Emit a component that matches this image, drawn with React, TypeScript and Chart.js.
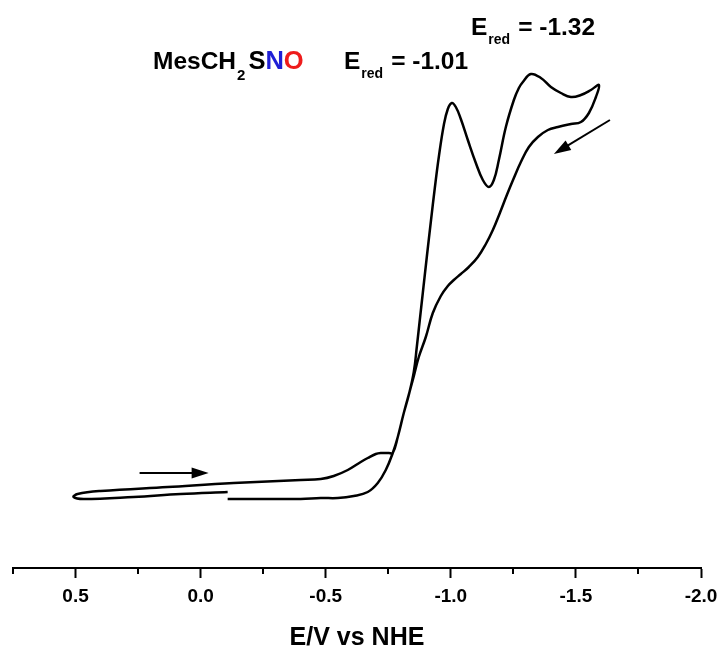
import React, { useEffect, useRef } from "react";
import { Chart, registerables } from "chart.js";

Chart.register(...registerables);

// Forward (cathodic) scan: potential (V vs NHE) and current (arbitrary units)
const forwardPotential = [
  -0.108, -0.24, -0.4, -0.48, -0.548, -0.612, -0.668, -0.708, -0.74, -0.768,
  -0.788, -0.812, -0.832, -0.852, -0.864, -0.876, -0.888, -0.904, -0.92, -0.936,
  -0.952, -0.972, -0.988, -1.004, -1.02, -1.04, -1.068, -1.1, -1.128, -1.152,
  -1.172, -1.192, -1.22, -1.252, -1.272, -1.288, -1.32, -1.36, -1.4, -1.44,
  -1.48, -1.52, -1.56, -1.592,
];
const forwardCurrent = [
  6.9, 6.9, 6.9, 7.0, 7.0, 7.2, 7.6, 8.5, 9.8, 11.5,
  13.1, 15.5, 17.3, 19.6, 22.1, 24.8, 27.5, 31.1, 34.6, 38.0,
  41.1, 44.3, 45.9, 46.5, 46.1, 44.9, 42.8, 40.5, 38.8, 38.1,
  38.8, 40.8, 44.1, 46.8, 48.0, 48.6, 49.4, 49.0, 48.1, 47.5,
  47.1, 47.3, 47.8, 48.3,
];

// Reverse (anodic) scan back to +0.5 V and then to the start potential
const reversePotential = [
  -1.58, -1.552, -1.52, -1.48, -1.428, -1.388, -1.348, -1.312, -1.28, -1.252,
  -1.224, -1.196, -1.168, -1.14, -1.108, -1.072, -1.04, -1.012, -0.988, -0.96,
  -0.928, -0.9, -0.872, -0.848, -0.812, -0.788, -0.768, -0.752, -0.72, -0.7,
  -0.668, -0.64, -0.588, -0.532, -0.48, -0.4, -0.132, 0.132, 0.4, 0.492,
  0.508, 0.468, 0.268, 0.08, -0.108,
];
const reverseCurrent = [
  47.1, 45.5, 44.6, 44.4, 44.1, 43.8, 43.1, 42.1, 40.6, 39.0,
  37.3, 35.5, 33.8, 32.4, 31.1, 30.1, 29.4, 28.8, 28.2, 27.2,
  25.5, 23.1, 21.1, 18.8, 15.5, 13.1, 11.5, 11.5, 11.5, 11.4,
  11.0, 10.6, 9.8, 9.2, 8.9, 8.8, 8.5, 8.1, 7.7, 7.4,
  7.1, 6.9, 7.1, 7.4, 7.6,
];

// X-axis ticks (major labelled every 0.5 V, minor every 0.25 V)
const tickValues = [0.75, 0.5, 0.25, 0.0, -0.25, -0.5, -0.75, -1.0, -1.25, -1.5, -1.75, -2.0];
const majorTickValues = [0.5, 0.0, -0.5, -1.0, -1.5, -2.0];

// Scan direction arrows: [startPotential, startCurrent, endPotential, endCurrent]
const arrowForward = [0.244, 9.5, -0.032, 9.5];
const arrowReverse = [-1.636, 44.8, -1.412, 41.4];

const FONT = '"Liberation Sans", Arial, Helvetica, sans-serif';

const isMajor = (v: number) => majorTickValues.some((m) => Math.abs(m - v) < 1e-9);

function drawArrow(ctx: CanvasRenderingContext2D, x1: number, y1: number, x2: number, y2: number) {
  const ang = Math.atan2(y2 - y1, x2 - x1);
  const headLen = 17;
  const headHalf = 5.5;
  ctx.save();
  ctx.strokeStyle = "#000";
  ctx.fillStyle = "#000";
  ctx.lineWidth = 2;
  ctx.beginPath();
  ctx.moveTo(x1, y1);
  ctx.lineTo(x2 - Math.cos(ang) * headLen * 0.8, y2 - Math.sin(ang) * headLen * 0.8);
  ctx.stroke();
  ctx.beginPath();
  ctx.moveTo(x2, y2);
  ctx.lineTo(
    x2 - Math.cos(ang) * headLen - Math.sin(ang) * headHalf,
    y2 - Math.sin(ang) * headLen + Math.cos(ang) * headHalf
  );
  ctx.lineTo(
    x2 - Math.cos(ang) * headLen + Math.sin(ang) * headHalf,
    y2 - Math.sin(ang) * headLen - Math.cos(ang) * headHalf
  );
  ctx.closePath();
  ctx.fill();
  ctx.restore();
}

type Seg = { t: string; size: number; dy?: number; color?: string; gap?: number };

function drawRich(ctx: CanvasRenderingContext2D, x: number, baseline: number, segs: Seg[]) {
  let cx = x;
  for (const s of segs) {
    ctx.font = `bold ${s.size}px ${FONT}`;
    ctx.fillStyle = s.color || "#000";
    ctx.textBaseline = "alphabetic";
    ctx.textAlign = "left";
    ctx.fillText(s.t, cx, baseline + (s.dy || 0));
    cx += ctx.measureText(s.t).width + (s.gap || 0);
  }
}

const overlayPlugin = {
  id: "cvOverlay",
  afterDraw(chart: any) {
    const ctx: CanvasRenderingContext2D = chart.ctx;
    const xs = chart.scales.x;
    const ys = chart.scales.y;
    const area = chart.chartArea;

    // minor ticks
    ctx.save();
    ctx.strokeStyle = "#000";
    ctx.lineWidth = 2;
    for (const v of tickValues) {
      if (isMajor(v)) continue;
      const px = Math.round(xs.getPixelForValue(v));
      ctx.beginPath();
      ctx.moveTo(px, area.bottom);
      ctx.lineTo(px, area.bottom + 6);
      ctx.stroke();
    }
    ctx.restore();

    // arrows
    drawArrow(
      ctx,
      xs.getPixelForValue(arrowForward[0]),
      ys.getPixelForValue(arrowForward[1]),
      xs.getPixelForValue(arrowForward[2]),
      ys.getPixelForValue(arrowForward[3])
    );
    drawArrow(
      ctx,
      xs.getPixelForValue(arrowReverse[0]),
      ys.getPixelForValue(arrowReverse[1]),
      xs.getPixelForValue(arrowReverse[2]),
      ys.getPixelForValue(arrowReverse[3])
    );

    // annotations
    ctx.save();
    drawRich(ctx, 153, 69, [
      { t: "MesCH", size: 24.5, gap: 1 },
      { t: "2", size: 15, dy: 11, gap: 3 },
      { t: "S", size: 25.5 },
      { t: "N", size: 25.5, color: "#1f1fd6" },
      { t: "O", size: 25.5, color: "#ee1c1c" },
    ]);
    drawRich(ctx, 344, 69, [
      { t: "E", size: 24.5, gap: 1 },
      { t: "red", size: 14, dy: 9, gap: 8 },
      { t: "= -1.01", size: 24.5 },
    ]);
    drawRich(ctx, 471, 35, [
      { t: "E", size: 24.5, gap: 1 },
      { t: "red", size: 14, dy: 9, gap: 8 },
      { t: "= -1.32", size: 24.5 },
    ]);
    ctx.restore();
  },
};

export default function App() {
  const canvasRef = useRef<HTMLCanvasElement | null>(null);

  useEffect(() => {
    const canvas = canvasRef.current;
    if (!canvas) return;

    const points = [
      ...forwardPotential.map((x, i) => ({ x, y: forwardCurrent[i] })),
      ...reversePotential.map((x, i) => ({ x, y: reverseCurrent[i] })),
    ];

    const chart = new Chart(canvas, {
      type: "scatter",
      data: {
        datasets: [
          {
            label: "MesCH2SNO",
            data: points,
            showLine: true,
            borderColor: "#000",
            backgroundColor: "#000",
            borderWidth: 2.5,
            pointRadius: 0,
            pointHoverRadius: 0,
            tension: 0.4,
            fill: false,
          },
        ],
      },
      options: {
        animation: false,
        responsive: true,
        maintainAspectRatio: false,
        events: [],
        layout: { padding: { left: 13, right: 19, top: 8, bottom: 0 } },
        plugins: {
          legend: { display: false },
          tooltip: { enabled: false },
          title: { display: false },
        },
        scales: {
          x: {
            type: "linear",
            min: -2.0,
            max: 0.75,
            reverse: true,
            afterBuildTicks: (scale: any) => {
              scale.ticks = tickValues.map((v) => ({ value: v }));
            },
            afterFit: (scale: any) => {
              scale.height = 80;
              scale.paddingLeft = 0;
              scale.paddingRight = 0;
            },
            ticks: {
              autoSkip: false,
              maxRotation: 0,
              minRotation: 0,
              padding: 7,
              color: "#000",
              font: { family: FONT, size: 19, weight: "bold" },
              callback: (value: any) => {
                const v = Number(value);
                return isMajor(v) ? (Math.abs(v) < 1e-9 ? "0.0" : v.toFixed(1)) : "";
              },
            },
            grid: {
              display: true,
              drawOnChartArea: false,
              drawTicks: true,
              tickLength: 10,
              tickWidth: 2,
              tickColor: (ctx: any) =>
                ctx.tick && isMajor(ctx.tick.value) ? "#000" : "rgba(0,0,0,0)",
            },
            border: { display: true, color: "#000", width: 2 },
            title: {
              display: true,
              text: "E/V vs NHE",
              color: "#000",
              font: { family: FONT, size: 25, weight: "bold", lineHeight: 0.8 },
              padding: { top: 0, bottom: 0 },
            },
          },
          y: {
            type: "linear",
            display: false,
            min: 0,
            max: 56,
          },
        },
      },
      plugins: [overlayPlugin],
    } as any);

    return () => chart.destroy();
  }, []);

  return (
    <div style={{ position: "absolute", left: 0, top: 0, width: 720, height: 648, background: "#fff" }}>
      <canvas ref={canvasRef} />
    </div>
  );
}
